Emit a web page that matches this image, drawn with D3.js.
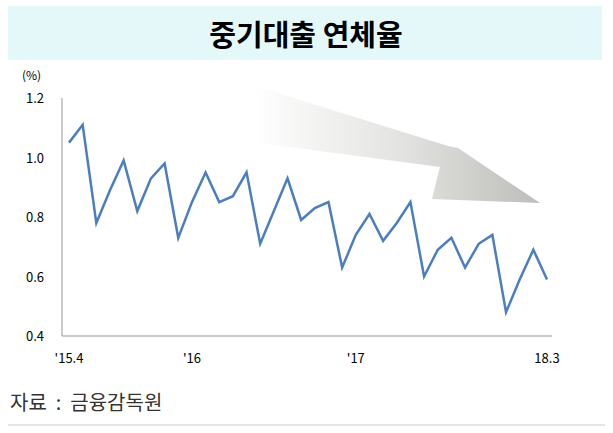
<!DOCTYPE html><html><head><meta charset="utf-8">
<script src="https://cdn.jsdelivr.net/npm/d3@7"></script>
<style>body{margin:0;background:#fff}</style></head><body>
<svg id="c" width="613" height="433"></svg>
<script>
const values=[1.05,1.11,0.78,0.89,0.99,0.82,0.93,0.98,0.73,0.85,0.95,0.85,0.87,0.95,0.71,0.82,0.93,0.79,0.83,0.85,0.63,0.74,0.81,0.72,0.78,0.85,0.60,0.69,0.73,0.63,0.71,0.74,0.48,0.59,0.69,0.59];
const yTicks=[0.4,0.6,0.8,1.0,1.2];
const xLabels=[{i:0,t:"'15.4"},{i:9,t:"'16"},{i:21,t:"'17"},{i:35,t:"18.3"}];
const svg=d3.select("#c");
const font="'Noto Sans CJK KR','Noto Sans',sans-serif";
svg.append("rect").attr("x",8).attr("y",6).attr("width",594).attr("height",54).attr("fill","#e4f8fa");
svg.append("text").attr("x",306).attr("y",46).attr("text-anchor","middle").attr("font-family",font).attr("font-weight","bold").attr("font-size",29).text("중기대출 연체율");
const x=d3.scaleLinear().domain([0,values.length-1]).range([69,547]);
const y=d3.scaleLinear().domain([0.4,1.2]).range([336,98]);
const defs=svg.append("defs");
const g=defs.append("linearGradient").attr("id","ag").attr("x1","0").attr("x2","1").attr("y1","0").attr("y2","0");
g.append("stop").attr("offset","0").attr("stop-color","#ffffff");
g.append("stop").attr("offset","0.5").attr("stop-color","#e4e4e2");
g.append("stop").attr("offset","1").attr("stop-color","#bdbdb9");
svg.append("path").attr("d","M255,86 L448,146 L458,148 L540,203 L432,199 L440,167 L252,142 Z").attr("fill","url(#ag)");
svg.append("line").attr("x1",62).attr("x2",62).attr("y1",98).attr("y2",336).attr("stroke","#999");
svg.append("line").attr("x1",62).attr("x2",552).attr("y1",336).attr("y2",336).attr("stroke","#999");
svg.selectAll(".yt").data(yTicks).join("text").attr("x",44).attr("y",d=>y(d)+5).attr("text-anchor","end").attr("font-family",font).attr("font-size",13).text(d=>d.toFixed(1));
svg.append("text").attr("x",22).attr("y",80).attr("font-family",font).attr("font-size",12).text("(%)");
svg.selectAll(".xt").data(xLabels).join("text").attr("x",d=>x(d.i)).attr("y",363).attr("text-anchor","middle").attr("font-family",font).attr("font-size",13).text(d=>d.t);
svg.append("path").datum(values).attr("fill","none").attr("stroke","#4a7ebf").attr("stroke-width",2.5)
 .attr("d",d3.line().x((d,i)=>x(i)).y(d=>y(d)));
svg.append("text").attr("x",10).attr("y",410).attr("font-family",font).attr("font-size",20).attr("fill","#333").attr("xml:space","preserve").style("white-space","pre").text("자료  :  금융감독원");
svg.append("line").attr("x1",8).attr("x2",605).attr("y1",425).attr("y2",425).attr("stroke","#ccc");
</script></body></html>
